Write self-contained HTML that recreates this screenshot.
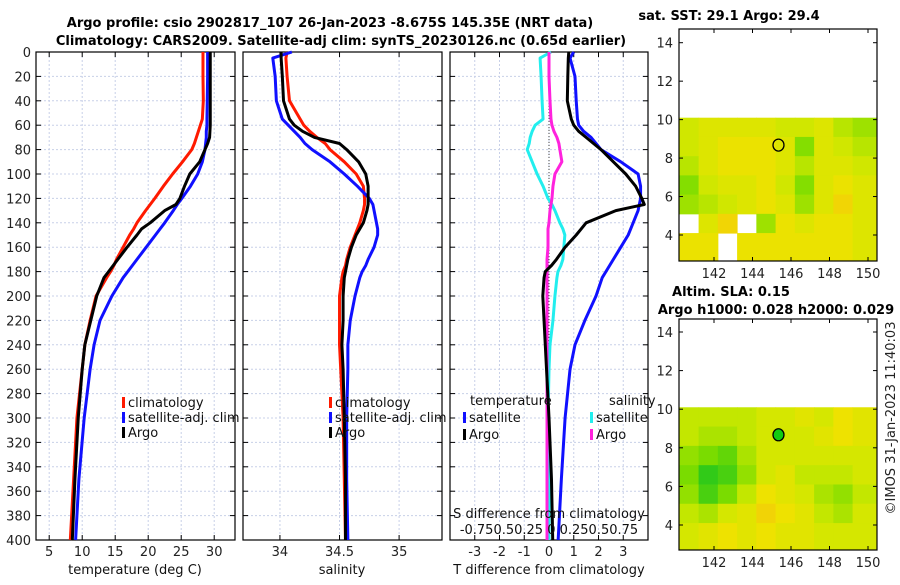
<!DOCTYPE html>
<html><head><meta charset="utf-8"><style>
body{margin:0;background:#fff;font-family:"Liberation Sans","DejaVu Sans",sans-serif}
svg text{font-family:"DejaVu Sans","Liberation Sans",sans-serif}
</style></head><body>
<svg id="fig" width="900" height="580" viewBox="0 0 900 580" xmlns="http://www.w3.org/2000/svg">
<text x="330" y="27" text-anchor="middle" font-size="13" font-weight="bold">Argo profile: csio 2902817_107 26-Jan-2023 -8.675S 145.35E (NRT data)</text>
<text x="341" y="45" text-anchor="middle" font-size="13" font-weight="bold">Climatology: CARS2009. Satellite-adj clim: synTS_20230126.nc (0.65d earlier)</text>
<text x="729" y="20" text-anchor="middle" font-size="13" font-weight="bold">sat. SST: 29.1 Argo: 29.4</text>
<text x="731" y="296" text-anchor="middle" font-size="13" font-weight="bold">Altim. SLA: 0.15</text>
<text x="776" y="314" text-anchor="middle" font-size="13" font-weight="bold">Argo h1000: 0.028 h2000: 0.029</text>
<text transform="translate(895,418) rotate(-90)" text-anchor="middle" font-size="13" fill="#222">©IMOS 31-Jan-2023 11:40:03</text>
<g id="g"></g>
</svg>
<script>
// ---- data ----
const depths=[0,5,20,40,55,60,65,70,75,80,90,100,110,120,125,130,140,145,150,160,170,175,180,185,200,220,240,260,300,350,400];
const tClim=[28.3,28.3,28.3,28.35,28.2,27.9,27.6,27.3,27.0,26.6,25.2,23.7,22.3,21,20.3,19.6,18.3,17.8,17.2,16.2,15.2,14.8,14.3,13.7,12.1,11.2,10.4,10.0,9.2,8.7,8.2];
const tSat=[29.0,29.0,29.0,28.95,28.9,28.9,28.8,28.8,28.7,28.6,28.2,27.5,26.4,25.1,24.4,23.8,22.5,21.8,21.1,19.7,18.3,17.6,16.9,16.2,14.5,12.7,11.8,11.2,10.3,9.5,9.0];
const tArgo=[29.4,29.4,29.4,29.4,29.4,29.4,29.35,29.3,29.0,28.6,27.8,26.3,25.5,24.8,24.2,22.5,20.3,19.0,18.3,16.8,15.4,14.7,14.0,13.3,12.2,11.3,10.4,10.0,9.4,8.9,8.5];
const sClim=[34.06,34.05,34.06,34.08,34.17,34.20,34.25,34.31,34.38,34.42,34.54,34.64,34.70,34.71,34.71,34.70,34.67,34.65,34.63,34.59,34.56,34.55,34.53,34.52,34.50,34.50,34.50,34.51,34.53,34.54,34.55];
const sSat=[34.10,33.94,33.96,33.97,34.02,34.07,34.12,34.17,34.21,34.27,34.42,34.54,34.65,34.75,34.78,34.79,34.81,34.82,34.82,34.79,34.74,34.72,34.69,34.67,34.63,34.59,34.57,34.57,34.56,34.56,34.57];
const sArgo=[34.01,34.01,34.02,34.03,34.08,34.12,34.19,34.29,34.50,34.56,34.66,34.72,34.74,34.74,34.74,34.73,34.70,34.67,34.64,34.60,34.57,34.56,34.55,34.54,34.53,34.53,34.52,34.53,34.54,34.55,34.55];
const dtSat=[1.0,0.85,1.05,1.1,1.15,1.2,1.4,1.7,1.9,2.1,2.9,3.6,3.7,3.7,3.65,3.6,3.4,3.3,3.2,2.9,2.6,2.45,2.3,2.15,1.9,1.45,1.05,0.85,0.65,0.5,0.37];
const dtArgo=[0.8,0.78,0.76,0.74,0.9,1.0,1.2,1.5,1.8,2.1,2.6,3.1,3.5,3.75,3.85,2.7,1.5,1.3,1.1,0.65,0.3,0.1,-0.15,-0.2,-0.25,-0.2,-0.15,-0.1,0.0,0.1,0.15];
const dsSat=[0.02,-0.09,-0.08,-0.07,-0.06,-0.14,-0.17,-0.19,-0.2,-0.22,-0.17,-0.12,-0.06,-0.01,0.03,0.06,0.11,0.14,0.16,0.15,0.14,0.12,0.09,0.08,0.06,0.04,0.01,0.0,-0.01,0.0,0.0];
const dsArgo=[0.0,0.0,0.0,0.01,0.02,0.03,0.05,0.08,0.1,0.11,0.13,0.06,0.04,0.03,0.02,0.01,0.0,-0.01,-0.01,-0.01,-0.02,-0.02,-0.02,-0.02,-0.02,-0.02,-0.02,-0.02,-0.02,-0.02,-0.02];
const depthTicks=[0,20,40,60,80,100,120,140,160,180,200,220,240,260,280,300,320,340,360,380,400];
const tTicks=[5,10,15,20,25,30];
const sTicks=[34,34.5,35];
const dTicks=[-3,-2,-1,0,1,2,3];
const sstLons=[140.7,141.7,142.7,143.7,144.7,145.7,146.7,147.7,148.7,149.7];
const sstLats=[9.6,8.6,7.6,6.6,5.6,4.6,3.6];
const sstGrid=[
[29.1,29.2,29.2,29.2,29.2,29.1,29.1,29.2,29.0,28.9],
[29.1,29.2,29.3,29.3,29.3,29.2,28.8,29.2,29.1,29.0],
[29.0,29.2,29.3,29.3,29.3,29.2,29.0,29.2,29.2,29.1],
[28.8,29.1,29.2,29.2,29.3,29.1,28.8,29.2,29.3,29.2],
[28.9,29.0,29.1,29.2,29.3,29.2,28.9,29.2,29.4,29.2],
[null,29.2,29.4,null,28.9,29.3,29.2,29.3,29.3,29.2],
[29.3,29.3,null,29.3,29.3,29.3,29.3,29.3,29.3,29.2]];
const slaGrid=[
[.15,.15,.15,.15,.16,.16,.17,.16,.18,.17],
[.15,.14,.14,.15,.16,.16,.16,.17,.18,.17],
[.13,.12,.11,.14,.16,.16,.16,.16,.16,.16],
[.12,.09,.10,.13,.16,.17,.15,.15,.15,.16],
[.13,.10,.12,.15,.18,.17,.16,.14,.13,.15],
[.15,.14,.16,.17,.19,.18,.17,.15,.14,.16],
[.16,.17,.18,.17,.18,.17,.17,.16,.16,.16]];
const argoLon=[145.35], argoLat=[8.675];
const mapXTicks=[142,144,146,148,150], mapYTicks=[4,6,8,10,12,14];

const NS='http://www.w3.org/2000/svg', G=document.getElementById('g');
function mk(t,a,p){const e=document.createElementNS(NS,t);for(const k in a)e.setAttribute(k,a[k]);(p||G).appendChild(e);return e;}
const Y0=52,Y1=540; const yD=d=>Y0+(Y1-Y0)*d/400;
function panel(name,x0,x1,xmin,xmax,xt,showY){
  const xs=v=>x0+(x1-x0)*(v-xmin)/(xmax-xmin);
  const g=mk('g',{});
  
  
  xt.forEach(v=>{const l=mk('line',{x1:xs(v),x2:xs(v),y1:Y0,y2:Y1,stroke:'#c8d0e8','stroke-dasharray':'2,2','stroke-width':1},g);
    
    mk('line',{x1:xs(v),x2:xs(v),y1:Y1,y2:Y1-5,stroke:'#000'},g);mk('line',{x1:xs(v),x2:xs(v),y1:Y0,y2:Y0+5,stroke:'#000'},g);
    const t=mk('text',{x:xs(v),y:Y1+16,'text-anchor':'middle','font-size':13,fill:'#222'},g);t.textContent=v;
    });
  depthTicks.forEach(d=>{mk('line',{x1:x0,x2:x1,y1:yD(d),y2:yD(d),stroke:'#c8d0e8','stroke-dasharray':'2,2'},g);
    mk('line',{x1:x0,x2:x0+5,y1:yD(d),y2:yD(d),stroke:'#000'},g);mk('line',{x1:x1-5,x2:x1,y1:yD(d),y2:yD(d),stroke:'#000'},g);
    if(showY){const t=mk('text',{x:x0-5,y:yD(d)+5,'text-anchor':'end','font-size':13,fill:'#222'},g);t.textContent=d;
    }});
  mk('rect',{x:x0,y:Y0,width:x1-x0,height:Y1-Y0,fill:'none',stroke:'#000','stroke-width':1.2},g);
  return xs;
}
function line(name,xs,vals,col){const p=mk('polyline',{points:vals.map((v,i)=>xs(v)+','+yD(depths[i])).join(' '),fill:'none',stroke:col,'stroke-width':3,'stroke-linejoin':'round'});
  }
function txt(x,y,s,name,anchor,size){const t=mk('text',{x:x,y:y,'font-size':size||13,'text-anchor':anchor||'start',fill:'#111'});t.textContent=s;
  return t;}
function leg(x,y,col,s,name){const r=mk('rect',{x:x,y:y-10,width:3,height:11,fill:col});txt(x+6,y,s,name);}

const xT=panel('temperature-panel',36,235,3,33.15,tTicks,true);
line('temp-climatology-line',xT,tClim,'#ff1a00');line('temp-satellite-line',xT,tSat,'#1010ff');line('temp-argo-line',xT,tArgo,'#000');
txt(135,574,'temperature (deg C)','temperature-x-axis-title','middle');
leg(122,407,'#ff1a00','climatology','legend-climatology');leg(122,422,'#1010ff','satellite-adj. clim','legend-satellite');leg(122,437,'#000','Argo','legend-argo');
const xS=panel('salinity-panel',243,442,33.69,35.36,sTicks,false);
line('sal-climatology-line',xS,sClim,'#ff1a00');line('sal-satellite-line',xS,sSat,'#1010ff');line('sal-argo-line',xS,sArgo,'#000');
txt(342,574,'salinity','salinity-x-axis-title','middle');
leg(329,407,'#ff1a00','climatology','legend2-climatology');leg(329,422,'#1010ff','satellite-adj. clim','legend2-satellite');leg(329,437,'#000','Argo','legend2-argo');
const xDT=panel('difference-panel',450,648,-4,4,dTicks,false);
const xDS=v=>549+99*v;
mk('line',{x1:xDT(0),x2:xDT(0),y1:Y0,y2:Y1,stroke:'#444','stroke-dasharray':'1,2'});
line('s-diff-satellite-line',xDS,dsSat,'#22eeee');line('s-diff-argo-line',xDS,dsArgo,'#ff22dd');
line('t-diff-satellite-line',xDT,dtSat,'#1010ff');line('t-diff-argo-line',xDT,dtArgo,'#000');
txt(549,574,'T difference from climatology','t-diff-x-axis-title','middle');
txt(549,518,'S difference from climatology','s-diff-axis-title','middle');
txt(549,534,'-0.750.50.25 0 0.250.50.75','s-diff-tick-labels','middle');
txt(470,405,'temperature','legend3-temperature-header');txt(609,405,'salinity','legend3-salinity-header');
leg(463,422,'#1010ff','satellite','legend3-t-satellite');leg(463,439,'#000','Argo','legend3-t-argo');
leg(590,422,'#22eeee','satellite','legend3-s-satellite');leg(590,439,'#ff22dd','Argo','legend3-s-argo');

function cmap(t){const st=[[0,[0,190,40]],[0.35,[120,220,0]],[0.6,[205,232,0]],[0.8,[240,225,0]],[1,[245,175,20]]];
  t=Math.max(0,Math.min(1,t));for(let i=1;i<st.length;i++){if(t<=st[i][0]){const a=st[i-1],b=st[i],f=(t-a[0])/(b[0]-a[0]);
  return 'rgb('+a[1].map((c,k)=>Math.round(c+(b[1][k]-c)*f)).join(',')+')';}}}
function map(name,top,bot,y14,y4,grid,vmin,vmax,marker){
  const mx=lon=>714+(lon-142)*19.25, my=lat=>y14+(14-lat)*(y4-y14)/10;
  const g=mk('g',{});
  const nr=grid.length;
  grid.forEach((row,r)=>row.forEach((v,c)=>{if(v===null)return;
    const x=c===0?679:mx(sstLons[c]-0.5),xe=c===row.length-1?877:mx(sstLons[c]+0.5);
    const y=Math.max(my(sstLats[r]+0.5),my(10.1)),ye=r===nr-1?bot:my(sstLats[r]-0.5);
    const cell=mk('rect',{x:x,y:y,width:xe-x+0.5,height:ye-y+0.5,fill:cmap((v-vmin)/(vmax-vmin))},g);
    }));
  mk('rect',{x:679,y:top,width:198,height:bot-top,fill:'none',stroke:'#000','stroke-width':1.2},g);
  mapXTicks.forEach(v=>{mk('line',{x1:mx(v),x2:mx(v),y1:bot,y2:bot-4,stroke:'#000'},g);mk('line',{x1:mx(v),x2:mx(v),y1:top,y2:top+4,stroke:'#000'},g);
    const t=mk('text',{x:mx(v),y:bot+17,'text-anchor':'middle','font-size':13,fill:'#222'},g);t.textContent=v;});
  mapYTicks.forEach(v=>{mk('line',{x1:679,x2:683,y1:my(v),y2:my(v),stroke:'#000'},g);mk('line',{x1:873,x2:877,y1:my(v),y2:my(v),stroke:'#000'},g);
    const t=mk('text',{x:673,y:my(v)+5,'text-anchor':'end','font-size':13,fill:'#222'},g);t.textContent=v;});
  const m=mk('ellipse',{cx:mx(argoLon[0]),cy:my(argoLat[0]),rx:5.5,ry:6,fill:marker,stroke:'#000','stroke-width':1.3},g);
  
}
map('sst-map',29,261,42.7,235,sstGrid,28.3,29.6,'none');
map('sla-map',319,550,332,525,slaGrid,0.07,0.21,'#11cc11');
</script>
</body></html>
